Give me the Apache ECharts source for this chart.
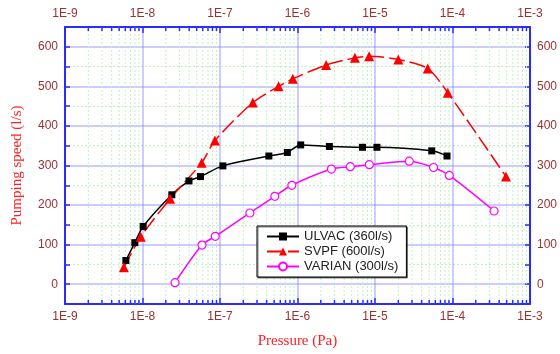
<!DOCTYPE html>
<html><head><meta charset="utf-8">
<script src="https://cdn.jsdelivr.net/npm/echarts@6/dist/echarts.min.js"></script>
<style>html,body{margin:0;padding:0;background:#fff}#c{width:560px;height:354px}</style>
</head><body><div id="c"></div>
<script>
// ---- data ----
const ulvacP = [6.1e-9, 7.96e-9, 1.02e-8, 2.39e-8, 3.98e-8, 5.6e-8, 1.09e-7, 4.27e-7, 7.4e-7, 1.1e-6, 2.58e-6, 6.9e-6, 1.06e-5, 5.4e-5, 8.5e-5];
const ulvacS = [60, 105, 146, 226, 261, 272, 299, 324, 333, 352, 348, 346, 346, 337, 324];
const svpfP = [5.75e-9, 9.5e-9, 2.27e-8, 5.8e-8, 8.6e-8, 2.65e-7, 5.7e-7, 8.7e-7, 2.34e-6, 5.5e-6, 8.4e-6, 2.0e-5, 4.8e-5, 8.7e-5, 4.9e-4];
const svpfS = [43, 120, 216, 307, 363, 459, 500, 519, 554, 572, 576, 568, 545, 484, 272];
const varianP = [2.63e-8, 5.86e-8, 8.7e-8, 2.43e-7, 5.1e-7, 8.45e-7, 2.74e-6, 4.8e-6, 8.45e-6, 2.77e-5, 5.7e-5, 9.1e-5, 3.44e-4];
const varianS = [4, 99, 121, 180, 222, 250, 291, 297, 302, 311, 295, 275, 185];
const seriesNames = ['ULVAC (360l/s)', 'SVPF (600l/s)', 'VARIAN (300l/s)'];
const yTickLabels = [0, 100, 200, 300, 400, 500, 600];
const decadeExps = [-9, -8, -7, -6, -5, -4];
const minorMantissas = [2, 3, 4, 5, 6, 7, 8, 9];

const minorX = [];
decadeExps.forEach(e => minorMantissas.forEach(m => minorX.push([m * Math.pow(10, e)])));
const zip = (a, b) => a.map((v, i) => [v, b[i]]);

const labelColor = '#9a3030';
const axisBlue = '#2b2bff';
const majorGrid = 'rgba(140,140,255,0.6)';
const minorGrid = '#c2f0c2';

const logLabel = v => '1E' + Math.round(Math.log10(v));
const yLabel = v => (yTickLabels.indexOf(v) >= 0 ? String(v) : '');

const xCommon = {
  type: 'log', logBase: 10, min: 1e-9, max: 1e-3,
  axisLine: { show: true, onZero: false, lineStyle: { color: axisBlue, width: 2 } },
  axisTick: { show: true, inside: true, length: 6, lineStyle: { color: axisBlue, width: 1.5 } },
  axisLabel: { formatter: logLabel, color: labelColor, fontSize: 12, fontFamily: 'Liberation Sans', margin: 7 },
  minorTick: { show: false }, minorSplitLine: { show: false }
};
const yCommon = {
  type: 'value', min: -50, max: 650, interval: 50,
  axisLine: { show: true, onZero: false, lineStyle: { color: axisBlue, width: 2 } },
  axisTick: { show: true, inside: true, length: 5, lineStyle: { color: axisBlue, width: 1.5 } },
  axisLabel: { formatter: yLabel, color: labelColor, fontSize: 12, fontFamily: 'Liberation Sans', margin: 7, showMinLabel: true, showMaxLabel: true }
};

const chart = echarts.init(document.getElementById('c'), null, { renderer: 'canvas' });
chart.setOption({
  animation: false,
  backgroundColor: '#fff',
  grid: { left: 65, right: 29, top: 27, bottom: 44, containLabel: false },
  xAxis: [
    Object.assign({}, xCommon, {
      position: 'bottom',
      name: 'Pressure (Pa)', nameLocation: 'middle', nameGap: 30,
      nameTextStyle: { color: '#ff2020', fontSize: 15, fontFamily: 'Liberation Serif' },
      splitLine: { show: true, lineStyle: { color: majorGrid, width: 1.5 } }
    }),
    Object.assign({}, xCommon, { position: 'top', splitLine: { show: false } })
  ],
  yAxis: [
    Object.assign({}, yCommon, {
      position: 'left',
      name: 'Pumping speed (l/s)', nameLocation: 'middle', nameGap: 40, nameRotate: 90,
      nameTextStyle: { color: '#ff2020', fontSize: 15, fontFamily: 'Liberation Serif' },
      splitLine: { show: true, showMinLine: true, showMaxLine: true, lineStyle: { color: ['rgba(0,0,0,0)', majorGrid], width: 1.5 } }
    }),
    Object.assign({}, yCommon, {
      position: 'right',
      splitLine: { show: true, showMinLine: true, showMaxLine: true, lineStyle: { color: [minorGrid, 'rgba(0,0,0,0)'], width: 1, type: [2, 2] } }
    })
  ],
  legend: {
    left: 257, top: 226, orient: 'vertical',
    backgroundColor: '#fff', borderColor: '#000', borderWidth: 1,
    shadowColor: 'rgba(0,0,0,0.5)', shadowOffsetX: 1, shadowOffsetY: 1, shadowBlur: 0,
    padding: [4, 8, 4, 9], itemGap: 2, itemWidth: 32, itemHeight: 10,
    textStyle: { color: '#222', fontSize: 13, fontFamily: 'Liberation Sans' },
    data: seriesNames
  },
  series: [
    {
      type: 'custom', silent: true, xAxisIndex: 0, yAxisIndex: 0, z: 1,
      data: minorX,
      renderItem: function (params, api) {
        const v = api.value(0);
        const b = api.coord([v, -50]);
        const t = api.coord([v, 650]);
        return {
          type: 'group', children: [
            { type: 'line', shape: { x1: b[0], y1: b[1], x2: t[0], y2: t[1] }, style: { stroke: minorGrid, lineWidth: 1, lineDash: [2, 2] } },
            { type: 'line', shape: { x1: b[0], y1: b[1], x2: b[0], y2: b[1] - 4 }, style: { stroke: axisBlue, lineWidth: 1.5 } },
            { type: 'line', shape: { x1: t[0], y1: t[1], x2: t[0], y2: t[1] + 4 }, style: { stroke: axisBlue, lineWidth: 1.5 } }
          ]
        };
      }
    },
    {
      name: seriesNames[0], type: 'line', smooth: 0.3, data: zip(ulvacP, ulvacS),
      symbol: 'rect', symbolSize: 7, color: '#000',
      lineStyle: { color: '#000', width: 1.5 }, itemStyle: { color: '#000' }, z: 3
    },
    {
      name: seriesNames[1], type: 'line', smooth: 0.25, data: zip(svpfP, svpfS),
      symbol: 'triangle', symbolSize: 10, color: '#ff0000',
      lineStyle: { color: '#ff0000', width: 1.5, type: [16, 5] }, itemStyle: { color: '#ff0000' }, z: 3
    },
    {
      name: seriesNames[2], type: 'line', smooth: 0.3, data: zip(varianP, varianS),
      symbol: 'circle', symbolSize: 8, color: '#ff00ff',
      lineStyle: { color: '#ff00ff', width: 1.5 },
      itemStyle: { color: '#fff', borderColor: '#ff00ff', borderWidth: 1.2 }, z: 3
    }
  ]
});
</script>
</body></html>
